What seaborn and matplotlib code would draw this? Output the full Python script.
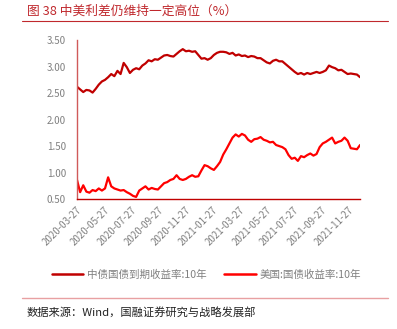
import numpy as np
import pandas as pd
import matplotlib
matplotlib.use("Agg")
import matplotlib.pyplot as plt
import matplotlib.dates as mdates
from matplotlib.lines import Line2D
import seaborn as sns

# ---------------- data ----------------
dates = pd.date_range("2020-03-27", periods=92, freq="7D")

cn_10y = [2.62, 2.57, 2.52, 2.56, 2.55, 2.51, 2.58, 2.66, 2.72, 2.75,
          2.80, 2.86, 2.82, 2.92, 2.86, 3.07, 2.99, 2.88, 2.94, 2.97,
          2.95, 3.02, 3.06, 3.12, 3.10, 3.14, 3.13, 3.17, 3.21, 3.22,
          3.20, 3.19, 3.24, 3.29, 3.33, 3.29, 3.30, 3.28, 3.29, 3.22,
          3.15, 3.16, 3.13, 3.16, 3.22, 3.26, 3.28, 3.28, 3.27, 3.24,
          3.26, 3.21, 3.23, 3.20, 3.21, 3.18, 3.20, 3.19, 3.16, 3.16,
          3.12, 3.08, 3.06, 3.11, 3.13, 3.10, 3.10, 3.05, 3.00, 2.95,
          2.90, 2.86, 2.88, 2.85, 2.88, 2.86, 2.88, 2.90, 2.88, 2.90,
          2.93, 3.02, 2.99, 2.97, 2.93, 2.94, 2.90, 2.86, 2.87, 2.86,
          2.85, 2.80]

us_10y = [0.86, 0.63, 0.76, 0.64, 0.62, 0.67, 0.65, 0.70, 0.66, 0.70,
          0.91, 0.74, 0.70, 0.68, 0.66, 0.67, 0.63, 0.60, 0.56, 0.54,
          0.66, 0.70, 0.74, 0.68, 0.71, 0.69, 0.68, 0.74, 0.80, 0.82,
          0.86, 0.88, 0.95, 0.88, 0.86, 0.88, 0.92, 0.95, 0.92, 0.93,
          1.04, 1.14, 1.12, 1.08, 1.05, 1.12, 1.20, 1.34, 1.44, 1.55,
          1.66, 1.72, 1.68, 1.73, 1.70, 1.62, 1.58, 1.63, 1.64, 1.67,
          1.62, 1.60, 1.57, 1.58, 1.52, 1.50, 1.48, 1.44, 1.33, 1.26,
          1.28, 1.22, 1.31, 1.29, 1.33, 1.36, 1.32, 1.35, 1.48, 1.55,
          1.58, 1.62, 1.66, 1.55, 1.58, 1.60, 1.66, 1.60, 1.46, 1.45,
          1.44, 1.52]

series_names = ["中债国债到期收益率:10年", "美国:国债收益率:10年"]
tick_labels = ["2020-03-27", "2020-05-27", "2020-07-27", "2020-09-27",
               "2020-11-27", "2021-01-27", "2021-03-27", "2021-05-27",
               "2021-07-27", "2021-09-27", "2021-11-27"]
y_ticks = [0.50, 1.00, 1.50, 2.00, 2.50, 3.00, 3.50]

title_text = "图 38 中美利差仍维持一定高位（%）"
source_text = "数据来源：Wind，国融证券研究与战略发展部"

# ---------------- plot ----------------
sns.set_style("white")
plt.rcParams["font.family"] = ["Noto Sans CJK SC", "DejaVu Sans"]
plt.rcParams["axes.unicode_minus"] = False

df = pd.DataFrame({
    "date": list(dates) * 2,
    "value": cn_10y + us_10y,
    "series": [series_names[0]] * len(dates) + [series_names[1]] * len(dates),
})

colors = {series_names[0]: "#c00000", series_names[1]: "#ff0000"}

fig = plt.figure(figsize=(3.97, 3.29), dpi=100)
ax = fig.add_axes([0.194, 0.395, 0.713, 0.483])

sns.lineplot(data=df, x="date", y="value", hue="series", palette=colors,
             linewidth=1.6, ax=ax, legend=False)

ax.set_xlim(dates[0], dates[-1])
ax.set_ylim(0.5, 3.5)
ax.set_yticks(y_ticks)
ax.set_yticklabels([f"{v:.2f}" for v in y_ticks])
tick_dates = pd.to_datetime(tick_labels)
ax.set_xticks(tick_dates)
ax.set_xticklabels(tick_labels, rotation=45, ha="right", rotation_mode="anchor")
ax.set_xlabel("")
ax.set_ylabel("")

for s in ["top", "right"]:
    ax.spines[s].set_visible(False)
ax.spines["left"].set_color("#d05a5a")
ax.spines["left"].set_linewidth(1.0)
ax.spines["bottom"].set_color("#c00000")
ax.spines["bottom"].set_linewidth(1.0)

ax.tick_params(axis="x", direction="in", length=3, width=0.8, color="#c00000",
               labelsize=7, labelcolor="#808080", pad=4)
ax.tick_params(axis="y", length=0, labelsize=7, labelcolor="#808080", pad=8)
ax.grid(False)

# title and rule
fig.text(27 / 397, 1 - 11 / 329, title_text, color="#c0282d", fontsize=9.2,
         ha="left", va="center")
fig.add_artist(Line2D([22 / 397, 388 / 397], [1 - 21 / 329, 1 - 21 / 329],
                      color="#c0282d", linewidth=0.8))

# legend
handles = [Line2D([0], [0], color=colors[n], linewidth=1.8) for n in series_names]
fig.legend(handles, series_names, loc="center", bbox_to_anchor=(0.52, 1 - 275 / 329),
           ncol=2, frameon=False, fontsize=7.6, handlelength=3.0, columnspacing=1.6,
           handletextpad=0.4, labelcolor="#808080")

# footer
fig.add_artist(Line2D([22 / 397, 388 / 397], [1 - 298 / 329, 1 - 298 / 329],
                      color="#e8a0a2", linewidth=1.0))
fig.text(27 / 397, 1 - 313 / 329, source_text, color="#222222", fontsize=8.1,
         ha="left", va="center")

fig.savefig("out.png", dpi=100)
